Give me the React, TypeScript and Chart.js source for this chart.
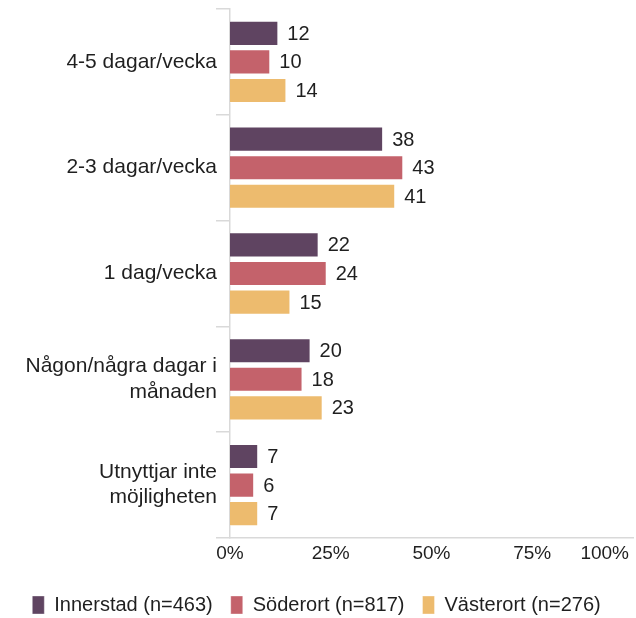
import React, { useEffect, useRef } from "react";
import { Chart, registerables } from "chart.js";

Chart.register(...registerables);

const categories: (string | string[])[] = [
  "4-5 dagar/vecka",
  "2-3 dagar/vecka",
  "1 dag/vecka",
  ["Någon/några dagar i", "månaden"],
  ["Utnyttjar inte", "möjligheten"],
];
const seriesNames = ["Innerstad (n=463)", "Söderort (n=817)", "Västerort (n=276)"];
const innerstad = [12, 38, 22, 20, 7];
const soderort = [10, 43, 24, 18, 6];
const vasterort = [14, 41, 15, 23, 7];
const xTicks = [0, 25, 50, 75, 100];
const colors = ["#5f4461", "#c4626b", "#edbb6e"];

const FONT = "'Liberation Sans', Arial, sans-serif";
const TEXT = "#1f1f1f";
const GRID = "#d9d9d9";

export default function App() {
  const ref = useRef<HTMLCanvasElement | null>(null);
  useEffect(() => {
    if (!ref.current) return;
    const valueLabels = {
      id: "valueLabels",
      afterDatasetsDraw(chart: any) {
        const ctx = chart.ctx;
        ctx.save();
        ctx.font = `20px ${FONT}`;
        ctx.fillStyle = TEXT;
        ctx.textAlign = "left";
        ctx.textBaseline = "middle";
        chart.data.datasets.forEach((ds: any, i: number) => {
          const meta = chart.getDatasetMeta(i);
          meta.data.forEach((bar: any, j: number) => {
            ctx.fillText(String(ds.data[j]), bar.x + 9, bar.y + 1);
          });
        });
        ctx.restore();
      },
    };
    const xLabels = {
      id: "xLabels",
      afterDraw(chart: any) {
        const ctx = chart.ctx;
        const scale = chart.scales.x;
        ctx.save();
        ctx.font = `19px ${FONT}`;
        ctx.fillStyle = TEXT;
        ctx.textBaseline = "middle";
        const W = chart.width;
        xTicks.forEach((v) => {
          const label = `${v}%`;
          const x = scale.getPixelForValue(v);
          const w = ctx.measureText(label).width;
          if (x + w / 2 > W - 7) {
            ctx.textAlign = "right";
            ctx.fillText(label, W - 7, chart.chartArea.bottom + 16);
          } else {
            ctx.textAlign = "center";
            ctx.fillText(label, x, chart.chartArea.bottom + 16);
          }
        });
        ctx.restore();
      },
    };
    const chart = new Chart(ref.current, {
      type: "bar",
      data: {
        labels: categories,
        datasets: [innerstad, soderort, vasterort].map((d, i) => ({
          label: seriesNames[i],
          data: d,
          backgroundColor: colors[i],
          borderColor: "rgba(255,255,255,0.35)",
          borderWidth: 1,
          categoryPercentage: 0.81,
          barPercentage: 0.88,
        })),
      },
      options: {
        indexAxis: "y",
        responsive: false,
        animation: false,
        layout: { padding: { top: 9, right: 3, left: 0, bottom: -7 } },
        plugins: {
          legend: {
            position: "bottom",
            labels: {
              boxWidth: 12,
              boxHeight: 18,
              padding: 18,
              color: TEXT,
              font: { size: 20, family: FONT },
            },
          },
          tooltip: { enabled: false },
        },
        scales: {
          x: {
            min: 0,
            max: 100,
            ticks: { display: false, stepSize: 25 },
            grid: { display: false, drawTicks: false },
            border: { display: true, color: GRID, width: 1.5 },
            afterFit: (s: any) => {
              s.height = 39;
              s.paddingLeft = 0;
              s.paddingRight = 0;
            },
          },
          y: {
            grid: {
              offset: true,
              drawOnChartArea: false,
              drawTicks: true,
              tickLength: 14,
              color: GRID,
              lineWidth: 1.5,
            },
            border: { display: true, color: GRID, width: 1.5 },
            ticks: {
              color: TEXT,
              padding: -1,
              font: { size: 21, family: FONT, lineHeight: 1.2 },
            },
            afterFit: (s: any) => {
              s.width = 230;
              s.paddingTop = 0;
              s.paddingBottom = 0;
            },
          },
        },
      },
      plugins: [valueLabels, xLabels],
    });
    return () => chart.destroy();
  }, []);
  return (
    <div style={{ position: "absolute", left: 0, top: 0, width: 636, height: 618, background: "#fff" }}>
      <canvas ref={ref} width={636} height={618} />
    </div>
  );
}
